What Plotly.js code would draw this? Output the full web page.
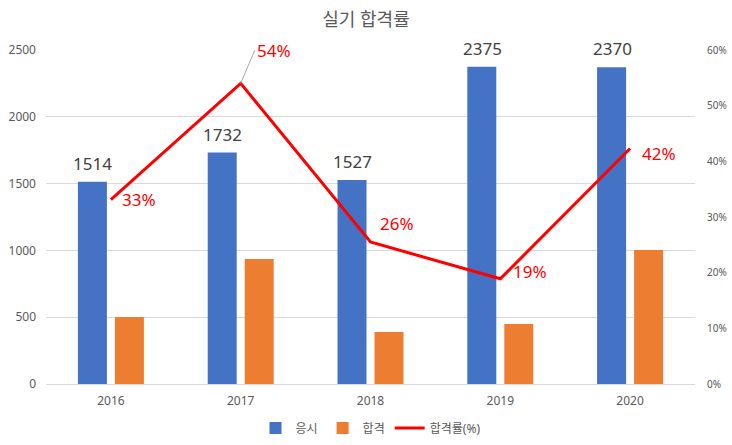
<!DOCTYPE html>
<html><head><meta charset="utf-8">
<script src="https://cdn.plot.ly/plotly-3.0.1.min.js"></script>
<style>html,body{margin:0;padding:0;background:#fff}#c{width:732px;height:445px}</style>
</head><body><div id="c"></div>
<script>
const years = ['2016','2017','2018','2019','2020'];
const applicants = [1514, 1732, 1527, 2375, 2370];
const passed = [501, 936, 389, 449, 1003];
const passRate = [0.331, 0.540, 0.255, 0.189, 0.423];
const rateLabelShift = [[9,0],[0,0],[7,19],[11,7],[10,-5]];

const FONT = 'Noto Sans, Noto Sans CJK KR, sans-serif';
const traces = [
  {type:'bar', name:'응시', x:years, y:applicants, marker:{color:'#4472c4'}, hoverinfo:'none'},
  {type:'bar', name:'합격', x:years, y:passed, marker:{color:'#ed7d31'}, hoverinfo:'none'},
  {type:'scatter', mode:'lines', name:'합격률(%)', x:years, y:passRate, yaxis:'y2',
   line:{color:'#ff0000', width:3}, hoverinfo:'none'}
];
const annotations = [];
years.forEach((yr,i)=>{
  annotations.push({x:i, y:applicants[i], xref:'x', yref:'y', text:String(applicants[i]),
    showarrow:false, xshift:-18, yshift:5, xanchor:'center', yanchor:'bottom',
    font:{size:17,color:'#404040',family:FONT}});
});
years.forEach((yr,i)=>{
  const base = {x:i, y:passRate[i], xref:'x', yref:'y2', text:Math.round(passRate[i]*100)+'%',
    font:{size:17,color:'#ff0000',family:FONT}, xanchor:'left', yanchor:'middle'};
  if (i===1) {
    Object.assign(base,{showarrow:true, ax:14, ay:-33, arrowhead:0, arrowwidth:1,
      arrowcolor:'#a6a6a6', standoff:0});
  } else {
    Object.assign(base,{showarrow:false, xshift:rateLabelShift[i][0], yshift:rateLabelShift[i][1]});
  }
  annotations.push(base);
});
const layout = {
  width:732, height:445,
  margin:{l:46, r:37, t:50, b:61, autoexpand:false},
  paper_bgcolor:'#fff', plot_bgcolor:'#fff',
  font:{family:FONT, color:'#595959'},
  title:{text:'실기 합격률', x:0.5, xanchor:'center', y:0.955, yanchor:'middle',
    font:{size:18,color:'#595959',family:FONT}},
  barmode:'group', bargap:0.43, bargroupgap:0.216,
  xaxis:{type:'category', range:[-0.5,4.5], showgrid:false, showline:false, ticks:'',
    tickfont:{size:12,color:'#595959'}, zeroline:false, ticklabelstandoff:8},
  yaxis:{range:[0,2500], dtick:500, showgrid:true, gridcolor:'#d9d9d9', gridwidth:1,
    zeroline:true, zerolinecolor:'#d9d9d9', zerolinewidth:1, showline:false,
    tickfont:{size:12,color:'#595959'}, ticks:'', ticklabelstandoff:9},
  yaxis2:{overlaying:'y', side:'right', range:[0,0.6], dtick:0.1, tickformat:'.0%',
    showgrid:false, zeroline:false, showline:false, tickfont:{size:10,color:'#595959'}, ticks:'',
    ticklabelstandoff:11},
  legend:{orientation:'h', x:0.5, xanchor:'center', y:-0.132, yanchor:'middle',
    font:{size:12,color:'#595959'}, traceorder:'normal'},
  annotations:annotations,
  showlegend:true
};
Plotly.newPlot('c', traces, layout, {displayModeBar:false, staticPlot:true});
</script></body></html>
